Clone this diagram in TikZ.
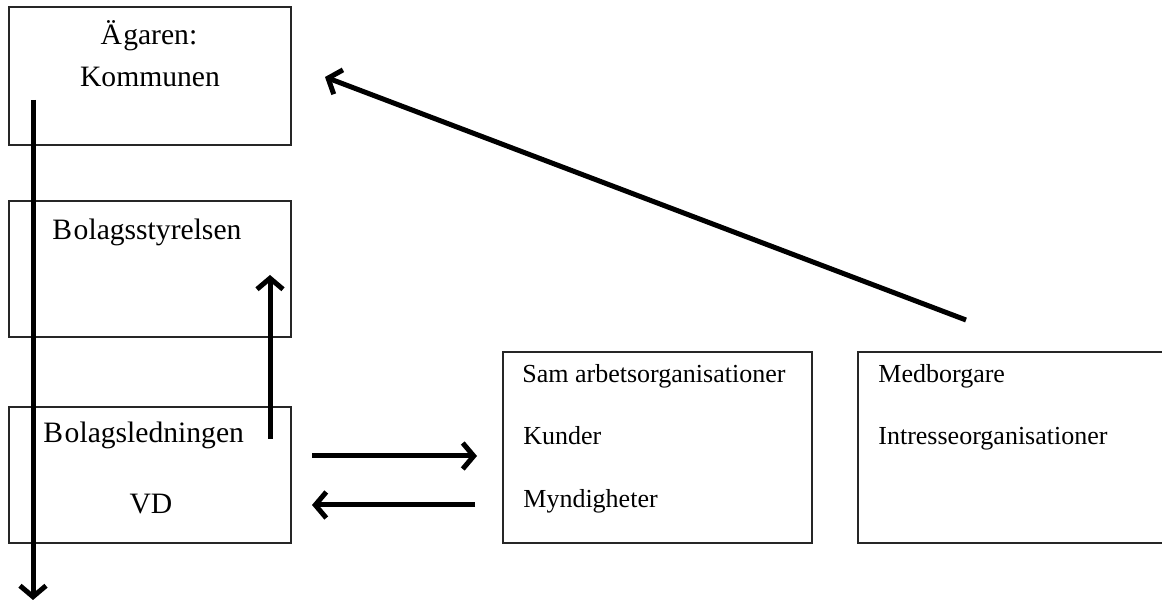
\documentclass[tikz,border=0pt]{standalone}
\usepackage{fontspec}
\setmainfont{Liberation Serif}
\usetikzlibrary{arrows.meta}
\begin{document}
\begin{tikzpicture}[x=0.5pt,y=-0.5pt,
  box/.style={draw=black!85,line width=0.8pt,anchor=north west,inner sep=0pt,outer sep=0pt},
  bigtxt/.style={inner sep=0pt,font=\fontsize{14.8}{17}\selectfont},
  smalltxt/.style={inner sep=0pt,anchor=base west,font=\fontsize{13}{15}\selectfont},
  flow/.style={line width=2.5pt,-{Straight Barb[length=5.5pt,width=13pt]}}]
\useasboundingbox (0,0) rectangle (1162,603);

% boxes
\node[box,minimum width=141pt,minimum height=69pt] (owner) at (9,7) {};
\node[box,minimum width=141pt,minimum height=68pt] (board) at (9,201) {};
\node[box,minimum width=141pt,minimum height=68pt] (mgmt) at (9,407) {};
\node[box,minimum width=154.5pt,minimum height=95.5pt] (partners) at (503,352) {};
\node[box,minimum width=170pt,minimum height=95.5pt] (citizens) at (858,352) {};

% texts
\node[bigtxt,anchor=base] (t1) at (149,45) {Ä\kern0.6pt garen:};
\node[bigtxt,anchor=base] (t2) at (150,87) {Kommunen};
\node[bigtxt,anchor=base west] (t3) at (52,240) {B\kern0.8pt olagsstyrelsen};
\node[bigtxt,anchor=base west] (t4) at (43,443) {B\kern0.8pt olagsledningen};
\node[bigtxt,anchor=base] (t5) at (151,514) {VD};
\node[smalltxt] (t6) at (522,383) {Sam arbetsorganisationer};
\node[smalltxt] (t7) at (523,445) {Kunder};
\node[smalltxt] (t8) at (523,508) {Myndigheter};
\node[smalltxt] (t9) at (878,383) {Medborgare};
\node[smalltxt] (t10) at (878,445) {Intresseorganisationer};

% arrow end points
\coordinate (downS) at (33,100);
\coordinate (downE) at (33,600);
\coordinate (upS) at (270,439);
\coordinate (upE) at (270,275);
\coordinate (rS) at (312,456);
\coordinate (rE) at (477,456);
\coordinate (lS) at (475,505);
\coordinate (lE) at (312,505);
\coordinate (dS) at (966,320);
\coordinate (dE) at (325,77);

% arrows
\draw[flow] (downS) -- (downE);
\draw[flow] (upS) -- (upE);
\draw[flow] (rS) -- (rE);
\draw[flow] (lS) -- (lE);
\draw[flow] (dS) -- (dE);
\end{tikzpicture}
\end{document}
